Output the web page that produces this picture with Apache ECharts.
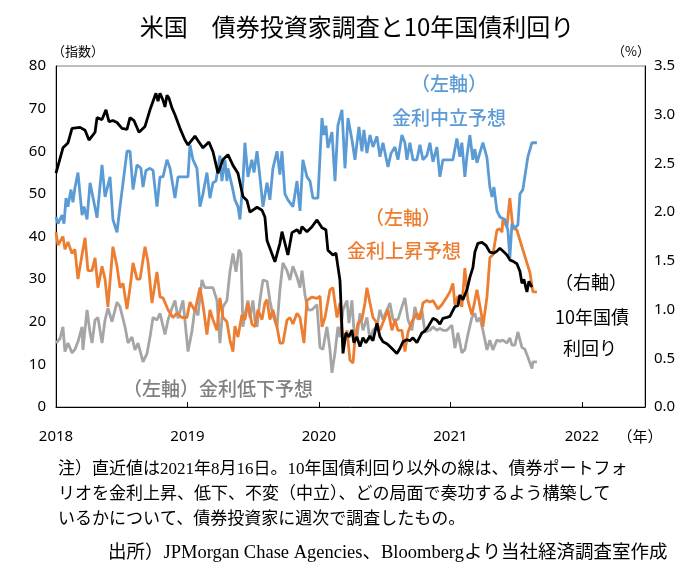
<!DOCTYPE html>
<html>
<head>
<meta charset="utf-8">
<title>米国 債券投資家調査と10年国債利回り</title>
<script src="https://cdn.jsdelivr.net/npm/echarts@6.0.0/dist/echarts.min.js"></script>
<style>
html, body { margin: 0; padding: 0; background: #fff; }
#statistics { width: 693px; height: 563px; }
</style>
</head>
<body>
<div id="statistics"></div>
<script>
// x = 年（小数）, 週次データを図から読み取り
var fallData = [
  [2018.000,15],[2018.030,16],[2018.053,18.8],[2018.068,13],[2018.091,15],[2018.122,12.7],[2018.144,13.5],[2018.167,15.3],
  [2018.198,18.8],[2018.205,13.4],[2018.236,22.8],[2018.259,17.4],[2018.274,15],[2018.297,20.4],[2018.319,21],[2018.350,15],
  [2018.373,20.4],[2018.395,23.2],[2018.426,20],[2018.464,24.6],[2018.487,23.5],[2018.525,18.8],[2018.548,15],[2018.578,16.4],
  [2018.601,13.4],[2018.624,15],[2018.662,10.6],[2018.692,12.5],[2018.715,16.4],[2018.738,21],[2018.768,20.4],[2018.791,22],
  [2018.829,17],[2018.852,20.4],[2018.882,23.2],[2018.905,25],[2018.928,20.8],[2018.966,25],[2019.004,13],[2019.034,17.8],
  [2019.057,23.2],[2019.080,21.5],[2019.110,29.8],[2019.133,28],[2019.171,28],[2019.194,28],[2019.224,25],[2019.247,15],
  [2019.270,23.5],[2019.300,25],[2019.323,31.7],[2019.346,36],[2019.369,31.7],[2019.392,36.9],[2019.407,36],[2019.422,18.8],
  [2019.445,22.8],[2019.460,25],[2019.475,21],[2019.498,25],[2019.513,20.4],[2019.529,18.8],[2019.551,25],[2019.574,29.8],
  [2019.605,29.5],[2019.627,25],[2019.650,21.5],[2019.681,18.8],[2019.703,27.5],[2019.726,33.8],[2019.757,32],[2019.779,29.8],
  [2019.802,33],[2019.833,30.5],[2019.856,28],[2019.871,32],[2019.894,26.3],[2019.916,22.8],[2019.947,22.8],[2019.985,24],
  [2020.008,14],[2020.030,13.5],[2020.061,18.8],[2020.084,13.4],[2020.099,8],[2020.122,12.7],[2020.144,18.8],[2020.160,16.4],
  [2020.183,22.8],[2020.213,25],[2020.228,19.7],[2020.251,25],[2020.266,18],[2020.289,16.4],[2020.312,22],[2020.335,18],
  [2020.365,21],[2020.388,15.7],[2020.411,18],[2020.441,18.8],[2020.464,22.8],[2020.487,20.5],[2020.517,22.8],[2020.540,24.4],
  [2020.563,20.5],[2020.601,20.5],[2020.631,23.5],[2020.654,25.6],[2020.677,20.5],[2020.707,18],[2020.730,23.5],[2020.753,20.5],
  [2020.783,22.8],[2020.806,17.6],[2020.844,18],[2020.867,18.8],[2020.897,18],[2020.920,18.4],[2020.943,18],[2020.973,18],
  [2021.011,19.2],[2021.034,13.8],[2021.057,17.4],[2021.087,12.7],[2021.110,13.5],[2021.133,17],[2021.163,21],[2021.186,22],
  [2021.202,20],[2021.224,21],[2021.247,18],[2021.278,13.4],[2021.300,15.7],[2021.323,13.4],[2021.354,15.7],[2021.376,15.4],
  [2021.399,15.7],[2021.430,15],[2021.452,16.2],[2021.468,14.5],[2021.490,14.5],[2021.513,17.6],[2021.544,14],[2021.567,13.5],
  [2021.589,11.7],[2021.620,9],[2021.627,10.6],[2021.658,10.6]
]
var riseData = [
  [2018.000,41],[2018.015,38],[2018.030,38],[2018.053,40],[2018.068,37],[2018.091,38.7],[2018.122,36],[2018.144,37],
  [2018.167,30],[2018.198,35.7],[2018.221,39.7],[2018.243,32],[2018.274,32],[2018.297,35],[2018.319,28],[2018.350,33],
  [2018.373,30],[2018.395,23.5],[2018.433,37.6],[2018.464,33],[2018.487,28],[2018.510,29],[2018.540,23],[2018.563,28],
  [2018.586,33.8],[2018.616,30],[2018.639,30],[2018.677,37.6],[2018.700,34],[2018.730,24.4],[2018.768,31.7],[2018.791,25.8],
  [2018.814,25.6],[2018.852,22.8],[2018.890,21],[2018.920,22],[2018.958,21],[2018.996,21],[2019.019,24.6],[2019.057,22.5],
  [2019.095,28],[2019.118,24],[2019.148,17],[2019.171,22.8],[2019.194,20.5],[2019.224,18],[2019.247,25.6],[2019.270,21],
  [2019.300,20],[2019.323,15.7],[2019.346,13],[2019.361,19],[2019.384,16.4],[2019.414,21.6],[2019.437,20.5],[2019.460,24.4],
  [2019.490,19.5],[2019.513,18.8],[2019.536,22.8],[2019.567,20.5],[2019.589,24.4],[2019.605,25.2],[2019.627,20.5],[2019.650,22.8],
  [2019.681,18.8],[2019.703,15],[2019.726,15],[2019.757,20.4],[2019.779,21],[2019.802,19.5],[2019.833,22],[2019.856,21],
  [2019.886,15],[2019.909,25],[2019.947,25.8],[2019.985,25.5],[2020.008,26],[2020.023,18.8],[2020.046,21],[2020.084,27.5],
  [2020.106,28],[2020.137,21],[2020.160,24.4],[2020.183,14],[2020.213,18],[2020.236,11],[2020.259,10.3],[2020.274,16],
  [2020.297,19.7],[2020.327,20.5],[2020.350,24.4],[2020.365,28],[2020.388,24.4],[2020.411,21],[2020.441,19.7],[2020.464,18],
  [2020.502,21],[2020.525,22.8],[2020.555,18],[2020.578,20.5],[2020.601,18],[2020.631,18],[2020.654,13],[2020.677,17.5],
  [2020.707,20],[2020.745,22],[2020.768,20.5],[2020.791,24.4],[2020.821,25],[2020.844,24.6],[2020.867,25],[2020.905,23],
  [2020.935,24],[2020.973,25.8],[2020.996,27],[2021.019,29],[2021.034,24],[2021.057,26],[2021.087,23.5],[2021.110,32.6],
  [2021.133,25],[2021.163,21.6],[2021.186,25],[2021.202,27.5],[2021.240,21],[2021.247,18.8],[2021.278,25.8],[2021.300,35],
  [2021.323,35.7],[2021.354,41.5],[2021.376,41.8],[2021.392,41],[2021.399,44],[2021.430,42.3],[2021.452,49],[2021.475,42],
  [2021.506,41.5],[2021.544,37.6],[2021.582,33.8],[2021.605,31.5],[2021.627,27],[2021.658,27]
]
var neutralData = [
  [2018.000,44.6],[2018.015,43],[2018.046,45],[2018.061,43],[2018.076,49],[2018.091,47],[2018.114,51],[2018.129,48],
  [2018.144,51.4],[2018.167,55],[2018.198,45],[2018.213,47],[2018.236,44],[2018.259,52.6],[2018.312,44.4],[2018.350,56.8],
  [2018.373,49.3],[2018.411,54],[2018.433,44],[2018.464,41],[2018.487,47],[2018.502,47],[2018.540,60],[2018.563,60],
  [2018.586,51],[2018.616,56.8],[2018.646,56],[2018.662,51.6],[2018.684,55.5],[2018.715,56],[2018.738,55.5],[2018.768,47],
  [2018.791,54],[2018.814,54],[2018.844,58],[2018.867,56],[2018.905,49],[2018.928,54],[2018.966,54],[2019.004,54],
  [2019.019,61.5],[2019.042,58],[2019.072,56],[2019.095,47],[2019.118,50],[2019.148,55],[2019.171,49],[2019.194,52.6],
  [2019.217,53],[2019.247,59],[2019.262,53],[2019.285,58],[2019.300,53],[2019.308,56],[2019.338,52],[2019.361,48.6],
  [2019.384,47],[2019.399,44],[2019.422,53],[2019.437,62],[2019.460,54],[2019.490,58],[2019.506,55],[2019.529,60],
  [2019.551,54],[2019.574,47],[2019.605,52.6],[2019.627,48.6],[2019.650,56],[2019.681,60],[2019.703,54.5],[2019.719,60],
  [2019.741,50],[2019.764,48.6],[2019.802,47],[2019.833,53],[2019.856,46],[2019.878,58],[2019.909,54],[2019.932,53],
  [2019.954,49],[2019.992,49],[2020.023,67.8],[2020.038,63.8],[2020.053,66],[2020.068,60.8],[2020.099,64.5],[2020.122,53],
  [2020.144,66],[2020.175,69.7],[2020.198,56],[2020.221,67.8],[2020.251,62.7],[2020.274,58],[2020.304,65.7],[2020.327,60],
  [2020.342,65],[2020.365,59.6],[2020.388,63.8],[2020.411,61],[2020.441,63.5],[2020.464,58.7],[2020.487,62],[2020.525,56.3],
  [2020.548,59.5],[2020.578,61],[2020.601,58],[2020.631,63.8],[2020.654,62],[2020.669,58],[2020.692,62],[2020.715,58],
  [2020.745,58],[2020.768,61.5],[2020.791,58],[2020.821,59],[2020.844,62],[2020.867,57.5],[2020.897,61],[2020.920,54],
  [2020.943,58],[2020.973,58],[2021.019,58],[2021.049,63],[2021.072,58.7],[2021.087,62],[2021.110,54],[2021.125,58.7],
  [2021.148,63.8],[2021.171,58],[2021.186,60.5],[2021.202,57.3],[2021.224,59.6],[2021.247,62],[2021.278,58.5],[2021.300,51.6],
  [2021.316,49.3],[2021.331,51.6],[2021.354,46],[2021.376,44.6],[2021.414,44],[2021.437,41.5],[2021.452,35],[2021.468,43],
  [2021.490,42],[2021.513,42.7],[2021.529,50],[2021.551,51],[2021.589,58.7],[2021.620,62],[2021.658,62]
]
// 10年国債利回り（右軸, %）
var yieldData = [
  [2018.000,2.40],[2018.053,2.66],[2018.091,2.71],[2018.122,2.86],[2018.183,2.87],[2018.221,2.84],[2018.251,2.74],[2018.297,2.82],
  [2018.312,2.97],[2018.350,2.95],[2018.380,3.05],[2018.403,2.93],[2018.433,2.94],[2018.464,2.92],[2018.502,2.86],[2018.540,2.85],
  [2018.563,2.97],[2018.593,2.94],[2018.631,2.82],[2018.677,2.88],[2018.715,3.05],[2018.760,3.22],[2018.776,3.14],[2018.791,3.22],
  [2018.814,3.15],[2018.829,3.08],[2018.844,3.20],[2018.859,3.17],[2018.882,3.07],[2018.905,3.00],[2018.943,2.86],[2018.981,2.74],
  [2019.004,2.69],[2019.019,2.68],[2019.057,2.78],[2019.087,2.72],[2019.118,2.66],[2019.163,2.72],[2019.194,2.62],[2019.232,2.40],
  [2019.270,2.54],[2019.308,2.59],[2019.346,2.48],[2019.384,2.40],[2019.422,2.16],[2019.452,2.12],[2019.475,2.00],[2019.529,2.05],
  [2019.567,2.02],[2019.589,1.95],[2019.605,1.71],[2019.665,1.49],[2019.703,1.68],[2019.719,1.80],[2019.764,1.56],[2019.795,1.79],
  [2019.833,1.82],[2019.856,1.78],[2019.871,1.85],[2019.909,1.80],[2019.947,1.85],[2019.985,1.92],[2020.023,1.84],[2020.053,1.82],
  [2020.068,1.61],[2020.106,1.56],[2020.129,1.58],[2020.160,1.30],[2020.183,0.55],[2020.205,0.76],[2020.228,0.72],[2020.251,0.79],
  [2020.266,0.66],[2020.289,0.72],[2020.312,0.62],[2020.335,0.71],[2020.357,0.66],[2020.388,0.73],[2020.411,0.68],[2020.441,0.86],
  [2020.464,0.72],[2020.487,0.67],[2020.517,0.65],[2020.540,0.62],[2020.593,0.55],[2020.616,0.60],[2020.639,0.67],[2020.669,0.69],
  [2020.692,0.68],[2020.715,0.71],[2020.745,0.66],[2020.783,0.76],[2020.806,0.78],[2020.829,0.82],[2020.867,0.91],[2020.897,0.89],
  [2020.920,0.85],[2020.943,0.91],[2020.973,0.92],[2020.996,0.93],[2021.034,1.03],[2021.057,1.04],[2021.072,1.15],[2021.095,1.10],
  [2021.125,1.20],[2021.148,1.33],[2021.171,1.43],[2021.186,1.59],[2021.209,1.68],[2021.240,1.69],[2021.270,1.66],[2021.300,1.59],
  [2021.331,1.58],[2021.354,1.60],[2021.376,1.63],[2021.407,1.59],[2021.430,1.56],[2021.452,1.51],[2021.483,1.49],[2021.506,1.47],
  [2021.529,1.39],[2021.544,1.27],[2021.559,1.31],[2021.582,1.18],[2021.597,1.29],[2021.620,1.23]
]

var noteLines = [
  '注）直近値は2021年8月16日。10年国債利回り以外の線は、債券ポートフォ',
  'リオを金利上昇、低下、不変（中立）、どの局面で奏功するよう構築して',
  'いるかについて、債券投資家に週次で調査したもの。'
]
var sourceLine = '出所）JPMorgan Chase Agencies、Bloombergより当社経済調査室作成'

var cjk = '"Noto Sans CJK JP", sans-serif'
var noteFont = '"Liberation Serif", "Noto Sans CJK JP", serif'

function label(text, x, y, color, size, align, font, weight) {
  return {
    type: 'text', x: x, y: y, silent: true,
    style: {
      text: text, fill: color, fontSize: size, fontFamily: font || cjk,
      fontWeight: weight || 'normal',
      align: align || 'center', verticalAlign: 'middle',
      textAlign: align || 'center', textVerticalAlign: 'middle'
    }
  }
}

var myChart = echarts.init(document.getElementById('statistics'))

var graphics = [
  label('米国　債券投資家調査と10年国債利回り', 357, 27, '#000', 24),
  label('（指数）', 78, 51, '#000', 13),
  label('（%）', 631, 51, '#000', 13),
  label('（年）', 640, 436, '#000', 15),
  label('（左軸）', 449, 84, '#5B9BD5', 19, null, null, 500),
  label('金利中立予想', 449, 118, '#5B9BD5', 19, null, null, 500),
  label('（左軸）', 403, 218, '#ED7D31', 19, null, null, 500),
  label('金利上昇予想', 404, 251, '#ED7D31', 19, null, null, 500),
  label('（右軸）', 591, 282, '#000', 18),
  label('10年国債', 592, 317, '#000', 18),
  label('利回り', 590, 348, '#000', 18),
  label('（左軸）金利低下予想', 218, 389, '#808080', 19, null, null, 500)
]
for (var i = 0; i < noteLines.length; i++) {
  graphics.push(label(noteLines[i], 58, 470 + i * 25, '#000', 17, 'left', noteFont))
}
graphics.push(label(sourceLine, 108, 553, '#000', 18.5, 'left', noteFont))

function lineSeries(name, data, color, yIndex, z) {
  return {
    name: name, type: 'line', data: data, yAxisIndex: yIndex,
    showSymbol: false, symbol: 'none', z: z,
    lineStyle: { color: color, width: 2.8 },
    itemStyle: { color: color }
  }
}

myChart.setOption({
  animation: false,
  textStyle: { fontFamily: cjk },
  grid: {
    left: 56, right: 48, top: 66, bottom: 156,
    show: true, borderColor: '#7f7f7f', borderWidth: 1
  },
  graphic: graphics,
  xAxis: {
    type: 'value', min: 2018, max: 2022.48, interval: 1,
    axisLine: { lineStyle: { color: '#000', width: 1 } },
    axisTick: { inside: true, length: 5, lineStyle: { color: '#000' } },
    splitLine: { show: false },
    axisLabel: {
      color: '#000', fontSize: 15, fontFamily: 'Noto Sans', margin: 22,
      formatter: function (v) { return Number.isInteger(v) ? String(v) : '' }
    }
  },
  yAxis: [
    {
      type: 'value', min: 0, max: 80, interval: 10,
      axisLine: { show: true, lineStyle: { color: '#000', width: 1 } },
      axisTick: { show: false },
      splitLine: { show: false },
      axisLabel: { color: '#000', fontSize: 15, fontFamily: 'Noto Sans', margin: 10 }
    },
    {
      type: 'value', min: 0, max: 3.5, interval: 0.5, position: 'right',
      axisLine: { show: true, lineStyle: { color: '#000', width: 1 } },
      axisTick: { show: false },
      splitLine: { show: false },
      axisLabel: {
        color: '#000', fontSize: 15, fontFamily: 'Noto Sans', margin: 9,
        formatter: function (v) { return v.toFixed(1) }
      }
    }
  ],
  series: [
    lineSeries('金利低下予想', fallData, '#A5A5A5', 0, 2),
    lineSeries('金利上昇予想', riseData, '#ED7D31', 0, 3),
    lineSeries('金利中立予想', neutralData, '#5B9BD5', 0, 4),
    lineSeries('10年国債利回り', yieldData, '#000000', 1, 5)
  ]
})
</script>
</body>
</html>
